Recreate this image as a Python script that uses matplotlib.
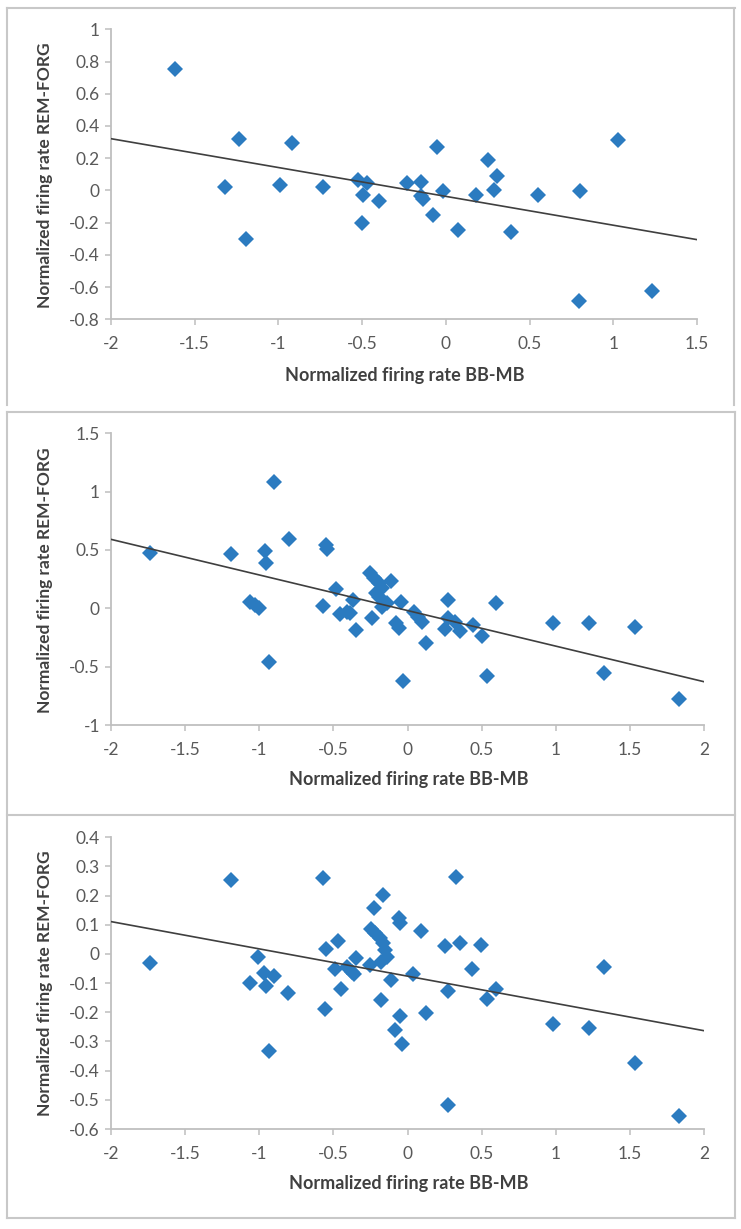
import matplotlib
matplotlib.use("Agg")
import matplotlib.pyplot as plt
from matplotlib.lines import Line2D
import numpy as np

plt.rcParams['font.family'] = ['Lato', 'DejaVu Sans']
plt.rcParams['axes.unicode_minus'] = False

# ---------------- data ----------------
# Panel 1
p1_x = [-1.618, -1.233, -1.319, -1.196, -0.921, -0.988, -0.732, -0.522, -0.473, -0.497,
        -0.401, -0.501, -0.234, -0.150, -0.150, -0.138, -0.050, -0.019, -0.075, 0.075,
        0.178, 0.254, 0.304, 0.290, 0.391, 0.553, 0.802, 1.031, 0.796, 1.230]
p1_y = [0.753, 0.319, 0.021, -0.300, 0.294, 0.031, 0.021, 0.066, 0.046, -0.031,
        -0.068, -0.203, 0.046, 0.052, -0.033, -0.054, 0.271, -0.002, -0.151, -0.248,
        -0.027, 0.186, 0.087, 0.004, -0.259, -0.031, -0.006, 0.314, -0.689, -0.627]
p1_trend = [-0.179, -0.037]   # slope, intercept

# Panel 2
p2_x = [-1.735, -1.193, -0.901, -0.802, -0.553, -0.544, -0.960, -0.953, -1.061, -1.027,
        -1.004, -0.937, -0.571, -0.485, -0.458, -0.409, -0.386, -0.368, -0.350, -0.240,
        -0.256, -0.229, -0.195, -0.173, -0.112, -0.195, -0.173, -0.139, -0.045, -0.078,
        -0.060, -0.031, 0.041, 0.074, 0.097, 0.126, 0.272, 0.272, 0.254, 0.321,
        0.351, 0.440, 0.501, 0.539, 0.598, 0.980, 1.222, 1.535, 1.326, 1.834,
        -0.211, -0.157]
p2_y = [0.471, 0.466, 1.080, 0.597, 0.543, 0.509, 0.491, 0.391, 0.057, 0.026,
        0.000, -0.463, 0.023, 0.163, -0.051, -0.029, -0.043, 0.071, -0.186, -0.086,
        0.306, 0.257, 0.214, 0.171, 0.237, 0.100, 0.014, 0.049, 0.054, -0.129,
        -0.171, -0.623, -0.029, -0.071, -0.114, -0.294, 0.071, -0.086, -0.180, -0.114,
        -0.191, -0.143, -0.237, -0.580, 0.049, -0.129, -0.129, -0.157, -0.557, -0.780,
        0.129, 0.057]
p2_trend = [-0.305, -0.019]

# Panel 3
p3_x = [-1.735, -1.191, -0.571, -0.162, -0.229, -0.060, -0.049, -0.247, -0.218, -0.184,
        -0.166, -0.150, -0.135, -0.177, -0.256, -0.112, -0.180, -0.049, -0.083, -0.038,
        -0.470, -0.553, -0.555, -0.449, -0.488, -0.409, -0.371, -0.346, -0.364, -1.011,
        -0.966, -0.899, -0.953, -1.061, -0.807, -0.937,
        0.090, 0.254, 0.351, 0.499, 0.324, 0.436, 0.036, 0.272, 0.539, 0.598,
        0.126, 0.980, 1.222, 1.326, 1.535, 0.272, 1.834]
p3_y = [-0.030, 0.254, 0.259, 0.202, 0.158, 0.124, 0.105, 0.084, 0.071, 0.056,
        0.036, 0.013, -0.012, -0.027, -0.038, -0.089, -0.158, -0.213, -0.259, -0.309,
        0.044, 0.016, -0.189, -0.121, -0.050, -0.044, -0.061, -0.015, -0.069, -0.010,
        -0.065, -0.074, -0.110, -0.101, -0.133, -0.332,
        0.080, 0.028, 0.036, 0.031, 0.263, -0.052, -0.069, -0.126, -0.156, -0.121,
        -0.204, -0.241, -0.255, -0.044, -0.373, -0.518, -0.556]
p3_trend = [-0.0935, -0.076]

x_label = "Normalized firing rate BB-MB"
y_label = "Normalized firing rate REM-FORG"

panels = [
    dict(x=p1_x, y=p1_y, trend=p1_trend, xlim=(-2, 1.5), xticks=[-2, -1.5, -1, -0.5, 0, 0.5, 1, 1.5],
         ylim=(-0.8, 1.0), yticks=[-0.8, -0.6, -0.4, -0.2, 0, 0.2, 0.4, 0.6, 0.8, 1.0],
         box=(111, 697, 29.3, 319.3), xl=(405, 375), yl=(45, 175)),
    dict(x=p2_x, y=p2_y, trend=p2_trend, xlim=(-2, 2), xticks=[-2, -1.5, -1, -0.5, 0, 0.5, 1, 1.5, 2],
         ylim=(-1, 1.5), yticks=[-1, -0.5, 0, 0.5, 1, 1.5],
         box=(111, 704, 433.3, 725), xl=(409, 780), yl=(45, 580)),
    dict(x=p3_x, y=p3_y, trend=p3_trend, xlim=(-2, 2), xticks=[-2, -1.5, -1, -0.5, 0, 0.5, 1, 1.5, 2],
         ylim=(-0.6, 0.4), yticks=[-0.6, -0.5, -0.4, -0.3, -0.2, -0.1, 0, 0.1, 0.2, 0.3, 0.4],
         box=(111, 704, 837.3, 1129), xl=(409, 1183), yl=(45, 983)),
]

W, H = 741, 1229
fig = plt.figure(figsize=(W / 100, H / 100), dpi=100)

def fmt(v):
    return '%g' % round(v, 2)

axis_gray = '#BFBFBF'
tick_col = '#595959'
lab_col = '#404040'
blue = '#2B7BC0'

for p in panels:
    l, r, t, b = p['box']
    ax = fig.add_axes([l / W, 1 - b / H, (r - l) / W, (b - t) / H])
    ax.plot(p['x'], p['y'], linestyle='none', marker='D', markersize=7.8,
            color=blue, markeredgewidth=0, zorder=2, clip_on=False)
    xs = np.array(p['xlim'])
    ax.plot(xs, p['trend'][0] * xs + p['trend'][1], color='#3F3F3F', lw=1.2, zorder=3)
    ax.set_xlim(*p['xlim'])
    ax.set_ylim(*p['ylim'])
    ax.set_xticks(p['xticks'])
    ax.set_xticklabels([fmt(v) for v in p['xticks']])
    ax.set_yticks(p['yticks'])
    ax.set_yticklabels([fmt(v) for v in p['yticks']])
    for s in ['top', 'right']:
        ax.spines[s].set_visible(False)
    for s in ['left', 'bottom']:
        ax.spines[s].set_color(axis_gray)
        ax.spines[s].set_linewidth(1.3)
    ax.tick_params(axis='x', direction='out', length=4, width=1.1, color=axis_gray,
                   labelcolor=tick_col, labelsize=12.5, pad=8)
    ax.tick_params(axis='y', direction='out', length=4, width=1.1, color=axis_gray,
                   labelcolor=tick_col, labelsize=12.5, pad=4)
    fig.text(p['xl'][0] / W, 1 - p['xl'][1] / H, x_label, ha='center', va='center',
             fontsize=13, fontweight='bold', color=lab_col)
    fig.text(p['yl'][0] / W, 1 - p['yl'][1] / H, y_label, ha='center', va='center',
             rotation=90, fontsize=12.5, fontweight='bold', color=lab_col)

# panel frames
frame_col = '#C8C8C8'
def hline(y, x0=7, x1=735):
    fig.add_artist(Line2D([x0 / W, x1 / W], [1 - y / H, 1 - y / H], color=frame_col, lw=1.5))
def vline(x, y0, y1):
    fig.add_artist(Line2D([x / W, x / W], [1 - y0 / H, 1 - y1 / H], color=frame_col, lw=1.5))

hline(8)
vline(7, 8, 405); vline(734, 8, 405)
hline(412); hline(815); hline(1218)
vline(7, 412, 1218); vline(735, 412, 1218)

fig.savefig('out.png', dpi=100, facecolor='white')
